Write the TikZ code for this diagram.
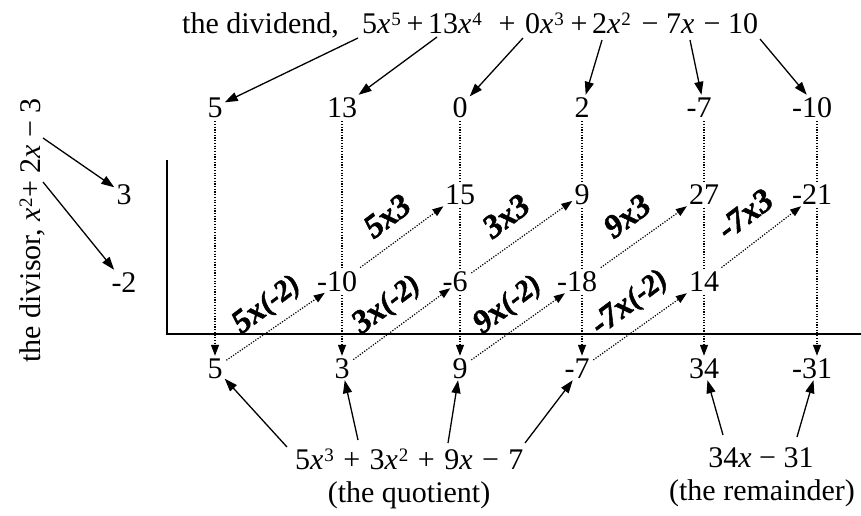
\documentclass[tikz,border=0pt]{standalone}
\usepackage{fontspec}
\setmainfont{Liberation Serif}
\newfontfamily\lblfont[BoldItalicFeatures={FakeBold=1.5}]{Liberation Serif}
\usetikzlibrary{arrows.meta}
\newcommand\vx{\textit{x}}
\newcommand\sps[1]{\hspace{0.8pt}\raisebox{8pt}{\fontsize{19}{19}\selectfont #1}}
\newcommand\negn{\llap{-}}
\newcommand\opx[1]{\hspace{9.5pt}#1\hspace{9.5pt}}
\newcommand\parn[1]{{\fontsize{29}{29}\selectfont\raisebox{1pt}{#1}}}
\begin{document}
\begin{tikzpicture}[x=1pt,y=-1pt,
  txt/.style={font=\fontsize{30}{36}\selectfont, inner sep=0pt},
  num/.style={font=\fontsize{30}{36}\selectfont, inner sep=2pt, text height=20pt, text depth=0pt},
  lbl/.style={font=\fontsize{33}{36}\selectfont\lblfont\bfseries\itshape, inner sep=0pt, rotate=37},
  arr/.style={line width=1.3pt, -{Triangle[length=13pt,width=9pt]}},
  dots/.style={line width=1.2pt, dash pattern=on 1.2pt off 1.5pt, shorten <=2pt},
  darr/.style={dots, -{Triangle[length=11pt,width=8pt]}},
  axisline/.style={line width=1.8pt}]
\useasboundingbox (0,0) rectangle (861,515);

% dividend
\node[txt, anchor=base west] (dvd) at (182,33) {the dividend,};
\node[txt, anchor=base west] (d5) at (362,33) {5\vx\sps{5}};
\node[txt, anchor=base] (o1) at (415,33) {+};
\node[txt, anchor=base west] (d4) at (428,33) {13\vx\sps{4}};
\node[txt, anchor=base] (o2) at (507,33) {+};
\node[txt, anchor=base west] (d3) at (525,33) {0\vx\sps{3}};
\node[txt, anchor=base] (o3) at (579,33) {+};
\node[txt, anchor=base west] (d2) at (592,33) {2\vx\sps{2}};
\node[txt, anchor=base] (o4) at (650,33) {−};
\node[txt, anchor=base west] (d1) at (666,33) {7\vx};
\node[txt, anchor=base] (o5) at (712,33) {−};
\node[txt, anchor=base west] (d0) at (728,33) {10};
\coordinate (ta1) at (358,38);
\coordinate (ta2) at (437,37);
\coordinate (ta3) at (523,38);
\coordinate (ta4) at (602,40);
\coordinate (ta5) at (690,40);
\coordinate (ta6) at (760,39);

% divisor
\node[txt, rotate=90, anchor=base west] (dvs) at (40,363) {the divisor, \vx\sps{2}+ 2\vx{} − 3};
\coordinate (da1) at (43,138);
\coordinate (da2) at (43,182);
\node[num] (m3) at (124,194) {3};
\node[num] (m2) at (124,282) {-2};

% rows
\node[num] (t1) at (215,107) {5};
\node[num] (t2) at (342,107) {13};
\node[num] (t3) at (460,107) {0};
\node[num] (t4) at (582,107) {2};
\node[num] (t5) at (704,107) {\negn7};
\node[num] (t6) at (817,107) {\negn10};

\node[num] (r3) at (460,194) {15};
\node[num] (r4) at (582,194) {9};
\node[num] (r5) at (704,194) {27};
\node[num] (r6) at (817,194) {\negn21};

\node[num] (s2) at (342,281) {\negn10};
\node[num] (s3) at (460,281) {\negn6};
\node[num] (s4) at (582,281) {\negn18};
\node[num] (s5) at (704,281) {14};

\node[num] (b1) at (215,368) {5};
\node[num] (b2) at (342,368) {3};
\node[num] (b3) at (460,368) {9};
\node[num] (b4) at (582,368) {\negn7};
\node[num] (b5) at (704,368) {34};
\node[num] (b6) at (817,368) {\negn31};

% axes
\coordinate (axT) at (167,160);
\coordinate (axC) at (167,334);
\coordinate (axR) at (861,334);
\draw[axisline] (axT) -- (axC) -- (axR);

% quotient and remainder
\node[txt, anchor=base west] (quo) at (295,469) {5\vx\sps{3}\opx{+}3\vx\sps{2}\opx{+}9\vx\opx{−}7};
\node[txt, anchor=base] (quol) at (409,502) {(the quotient)};
\node[txt, anchor=base] (rem) at (761,467) {34\vx{} − 31};
\node[txt, anchor=base] (reml) at (762,500) {(the remainder)};
\coordinate (qa1) at (287,447);
\coordinate (qa2) at (358,440);
\coordinate (qa3) at (448,443);
\coordinate (qa4) at (525,443);
\coordinate (ra1) at (723,435);
\coordinate (ra2) at (797,437);

% solid arrows
\draw[arr] (ta1) -- (t1);
\draw[arr] (ta2) -- (t2);
\draw[arr] (ta3) -- (t3);
\draw[arr] (ta4) -- (t4);
\draw[arr] (ta5) -- (t5);
\draw[arr] (ta6) -- (t6);
\draw[arr] (da1) -- (m3);
\draw[arr] (da2) -- (m2);
\draw[arr] (qa1) -- (b1);
\draw[arr] (qa2) -- (b2);
\draw[arr] (qa3) -- (b3);
\draw[arr] (qa4) -- (b4);
\draw[arr] (ra1) -- (b5);
\draw[arr] (ra2) -- (b6);

% vertical dotted
\draw[darr] (t1) -- (b1);
\draw[dots] (t2) -- (s2); \draw[darr] (s2) -- (b2);
\draw[dots] (t3) -- (r3); \draw[dots] (r3) -- (s3); \draw[darr] (s3) -- (b3);
\draw[dots] (t4) -- (r4); \draw[dots] (r4) -- (s4); \draw[darr] (s4) -- (b4);
\draw[dots] (t5) -- (r5); \draw[dots] (r5) -- (s5); \draw[darr] (s5) -- (b5);
\draw[dots] (t6) -- (r6); \draw[darr] (r6) -- (b6);

% diagonal dotted
\draw[darr] (b1) -- (s2); \draw[darr] (s2) -- (r3);
\draw[darr] (b2) -- (s3); \draw[darr] (s3) -- (r4);
\draw[darr] (b3) -- (s4); \draw[darr] (s4) -- (r5);
\draw[darr] (b4) -- (s5); \draw[darr] (s5) -- (r6);

% product labels
\node[lbl] (l1) at (267,305) {5x\parn{(-2)}};
\node[lbl] (l2) at (387,216) {5x3};
\node[lbl] (l3) at (387,305) {3x\parn{(-2)}};
\node[lbl] (l4) at (506,216) {3x3};
\node[lbl] (l5) at (508,305) {9x\parn{(-2)}};
\node[lbl] (l6) at (627,216) {9x3};
\node[lbl] (l7) at (630,303) {-7x\parn{(-2)}};
\node[lbl] (l8) at (745,214) {-7x3};
\end{tikzpicture}
\end{document}
